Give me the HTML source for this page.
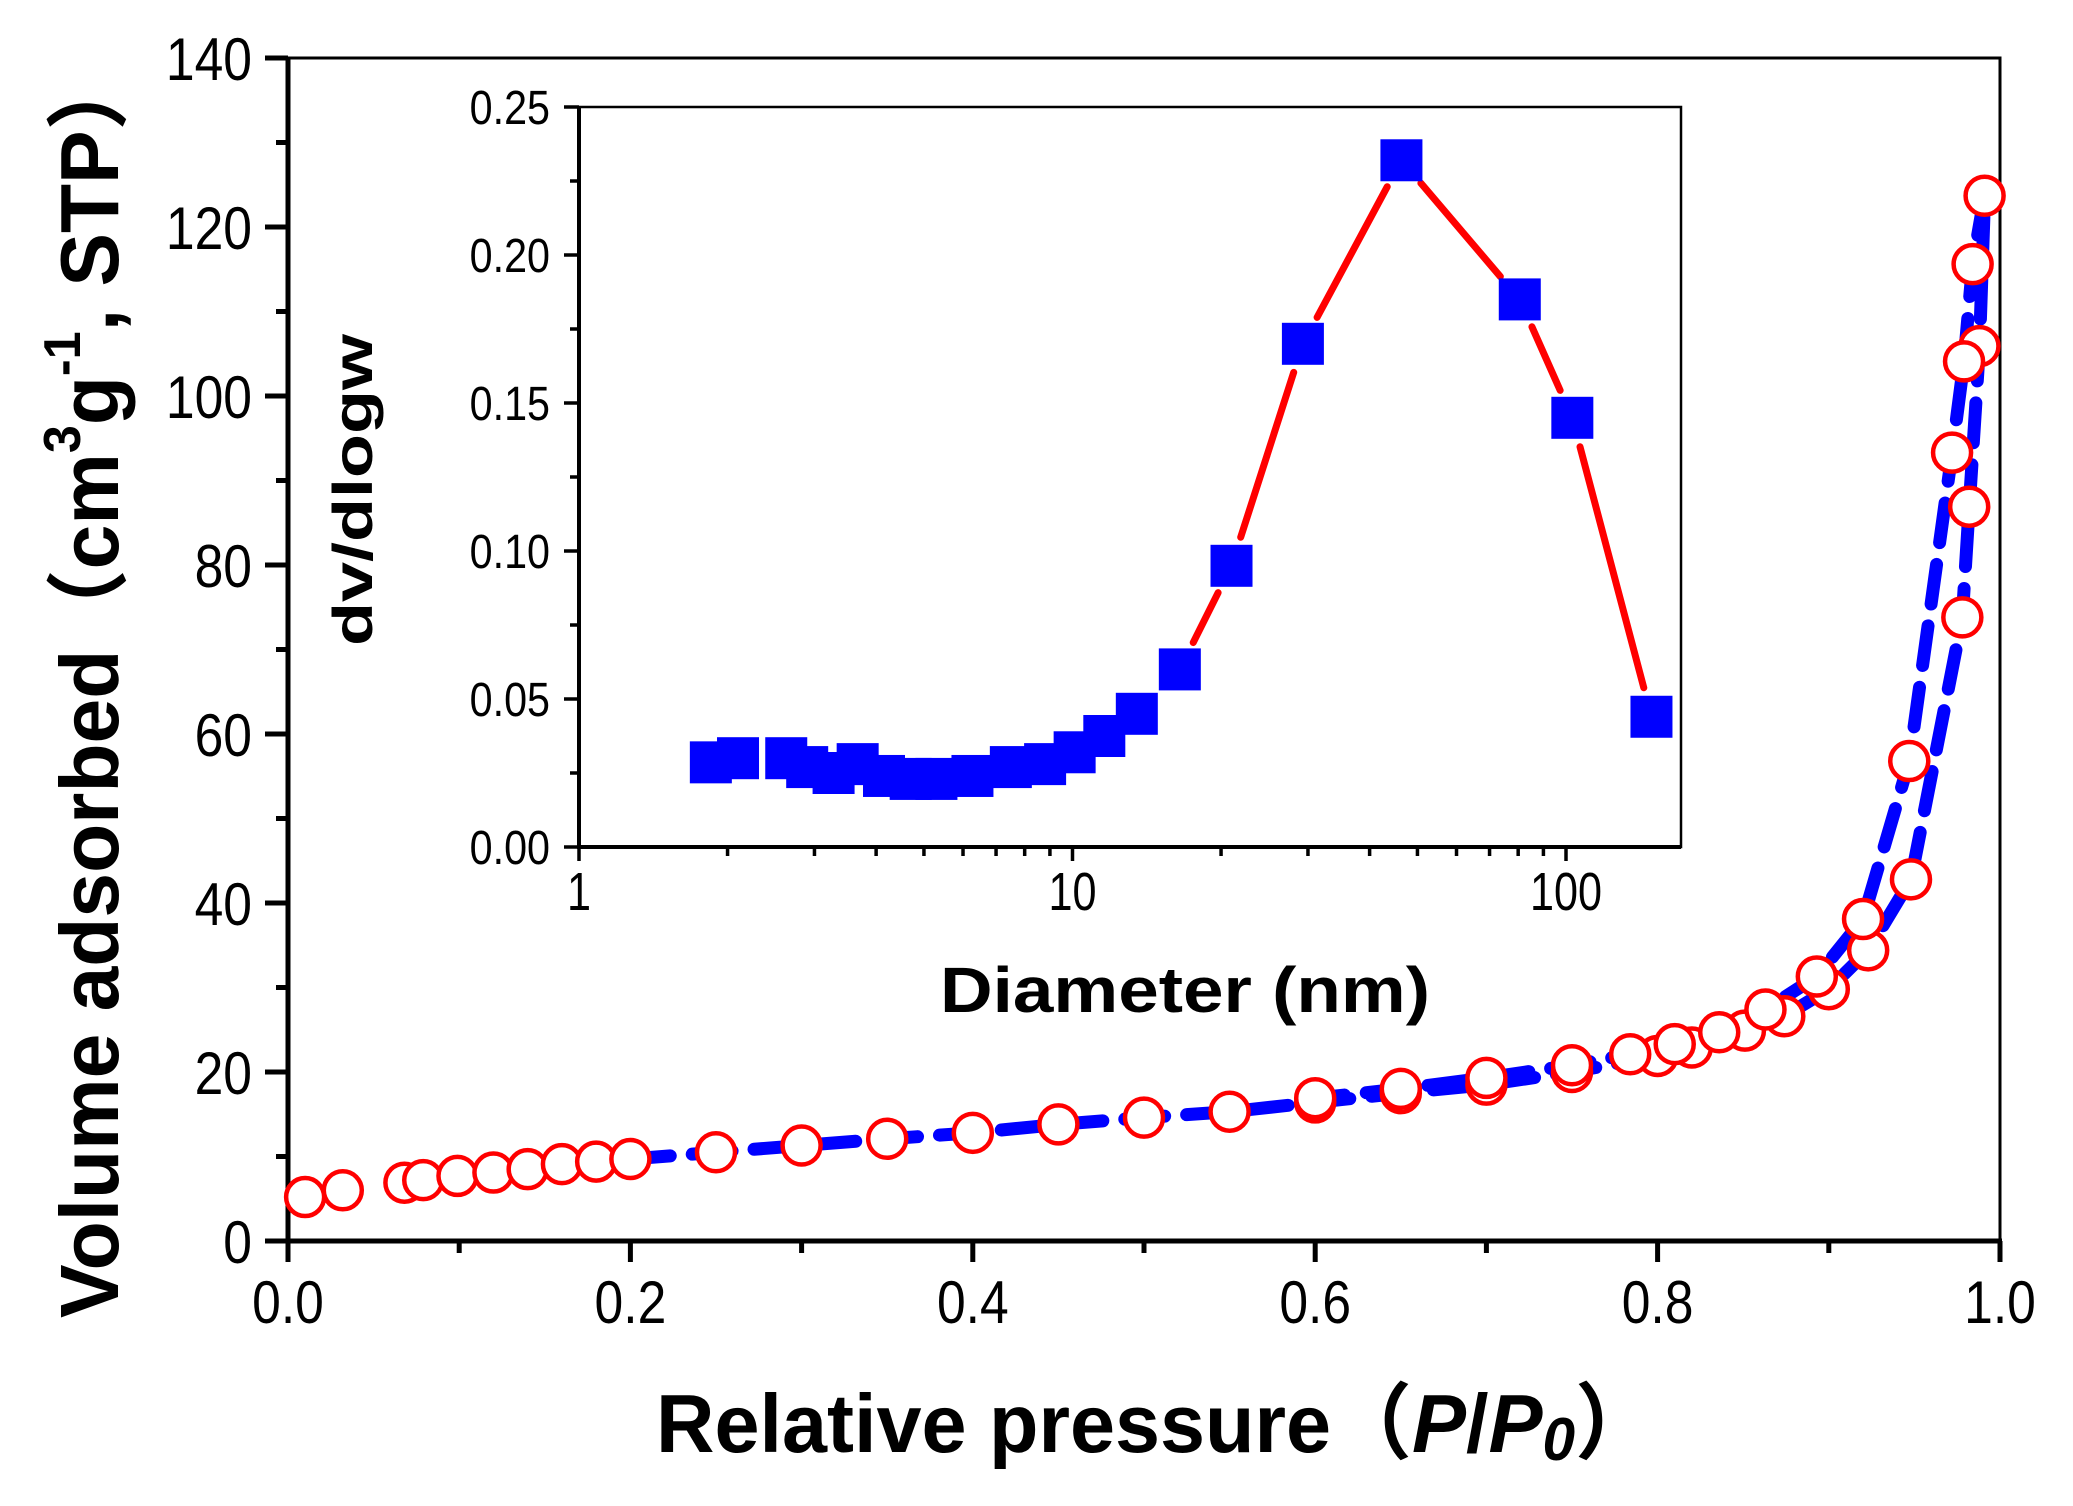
<!DOCTYPE html>
<html><head><meta charset="utf-8"><style>
html,body{margin:0;padding:0;background:#fff;}
svg{display:block;}
</style></head><body>
<svg id="chart" width="2073" height="1506" viewBox="0 0 2073 1506" xmlns="http://www.w3.org/2000/svg">
<rect width="2073" height="1506" fill="#fff"/>
<g id="main"></g>
<g id="inset"></g>
<text x="656" y="1452" font-family="'Liberation Sans','Noto Sans CJK SC',sans-serif" font-weight="bold" font-size="83" textLength="1000" lengthAdjust="spacingAndGlyphs">Relative pressure（<tspan font-style="italic">P</tspan>/<tspan font-style="italic">P</tspan><tspan font-style="italic" font-size="60" dy="8">0</tspan><tspan dy="-8">）</tspan></text>
<text transform="translate(118,1318) rotate(-90)" x="0" y="0" font-family="'Liberation Sans','Noto Sans CJK SC',sans-serif" font-weight="bold" font-size="83" textLength="1268" lengthAdjust="spacingAndGlyphs">Volume adsorbed（cm<tspan font-size="52" dy="-38">3</tspan><tspan dy="38">g</tspan><tspan font-size="52" dy="-38">-1</tspan><tspan dy="38">, STP）</tspan></text>
<text x="940" y="1012" font-family="'Liberation Sans',sans-serif" font-weight="bold" font-size="64" textLength="490" lengthAdjust="spacingAndGlyphs">Diameter (nm)</text>
<text transform="translate(372,646) rotate(-90)" font-family="'Liberation Sans',sans-serif" font-weight="bold" font-size="56" textLength="312" lengthAdjust="spacingAndGlyphs">dv/dlogw</text>
</svg>
<script>
// main isotherm data
const adsP = [0.010,0.032,0.068,0.079,0.099,0.12,0.14,0.16,0.18,0.20,0.25,0.30,0.35,0.40,0.45,0.50,0.55,0.60,0.65,0.70,0.75,0.80,0.82,0.851,0.874,0.90,0.923,0.948,0.978,0.982,0.988,0.991];
const adsV = [5.2,6.0,6.9,7.2,7.7,8.1,8.5,9.1,9.4,9.7,10.5,11.3,12.1,12.8,13.8,14.6,15.3,16.4,17.5,18.5,20.0,21.9,22.9,24.9,26.6,29.8,34.4,42.8,73.8,86.9,105.9,123.7];
const desP = [0.984,0.979,0.972,0.947,0.920,0.893,0.863,0.836,0.810,0.784,0.750,0.700,0.650,0.600];
const desV = [115.6,104.1,93.3,56.8,38.1,31.3,27.4,24.7,23.3,22.1,20.8,19.3,18.0,16.9];
const xTicks = ["0.0","0.2","0.4","0.6","0.8","1.0"];
const yTicks = ["0","20","40","60","80","100","120","140"];
// inset PSD data
const diam = [1.85,2.10,2.63,2.9,3.28,3.67,4.15,4.7,5.3,6.27,7.5,8.8,10.1,11.6,13.5,16.5,21.0,29.3,46.4,80.6,103,149];
const dvdlogw = [0.0286,0.030,0.030,0.027,0.025,0.028,0.024,0.023,0.023,0.024,0.027,0.028,0.032,0.0375,0.045,0.060,0.095,0.170,0.232,0.185,0.145,0.044];
const insetXTicks = ["1","10","100"];
const insetYTicks = ["0.00","0.05","0.10","0.15","0.20","0.25"];

const NS="http://www.w3.org/2000/svg";
function mk(parent,tag,attrs){const e=document.createElementNS(NS,tag);for(const k in attrs)e.setAttribute(k,attrs[k]);parent.appendChild(e);return e;}
const main=document.getElementById('main'), inset=document.getElementById('inset');
const L=288,R=2000,T=58,B=1241;
const sx=p=>L+(R-L)*p/1.0, sy=v=>B-(B-T)*v/140;
const FONT="'Liberation Sans',sans-serif";

let e;
e=mk(main,'rect',{x:L,y:T,width:R-L,height:B-T,fill:'none',stroke:'#000','stroke-width':3});


e=mk(main,'line',{x1:L,y1:T,x2:L,y2:B+2,stroke:'#000','stroke-width':5});


e=mk(main,'line',{x1:L-2,y1:B,x2:R+2,y2:B,stroke:'#000','stroke-width':5});


for(let i=0;i<=10;i++){const p=i/10;const major=i%2===0;
 e=mk(main,'line',{x1:sx(p),y1:B,x2:sx(p),y2:B+(major?21:12),stroke:'#000','stroke-width':5});
 
 
}
xTicks.forEach((t,i)=>{const p=parseFloat(t);
 e=mk(main,'text',{x:sx(p),y:1323,'text-anchor':'middle','font-family':FONT,'font-size':60,transform:`translate(${sx(p)},0) scale(0.86,1) translate(${-sx(p)},0)`});
 e.textContent=t;
 
 
});
for(let v=0;v<=140;v+=10){const major=v%20===0;
 e=mk(main,'line',{x1:L-(major?23:12),y1:sy(v),x2:L,y2:sy(v),stroke:'#000','stroke-width':5});
 
 
}
yTicks.forEach(t=>{const v=parseFloat(t);
 e=mk(main,'text',{x:252,y:sy(v)+22,'text-anchor':'end','font-family':FONT,'font-size':60,transform:`translate(252,0) scale(0.86,1) translate(-252,0)`});
 e.textContent=t;
 
 
});
function pathOf(P,V){return P.map((p,i)=>(i?'L':'M')+sx(p).toFixed(1)+','+sy(V[i]).toFixed(1)).join(' ');}
const adsStart=adsP.findIndex(p=>p>=0.2);
e=mk(main,'path',{d:pathOf(adsP.slice(adsStart),adsV.slice(adsStart)),fill:'none',stroke:'#0000ff','stroke-width':13,'stroke-dasharray':'40 22','stroke-linecap':'round','stroke-linejoin':'round'});


const dP=[adsP[adsP.length-1]].concat(desP), dV=[adsV[adsV.length-1]].concat(desV);
e=mk(main,'path',{d:pathOf(dP,dV),fill:'none',stroke:'#0000ff','stroke-width':13,'stroke-dasharray':'40 22','stroke-linecap':'round','stroke-linejoin':'round'});


function circ(p,v,name){
 e=mk(main,'circle',{cx:sx(p),cy:sy(v),r:19,fill:'#fff',stroke:'#ff0000','stroke-width':4.5});
 
 
}
adsP.forEach((p,i)=>circ(p,adsV[i],'adsorption-point'));
desP.forEach((p,i)=>circ(p,desV[i],'desorption-point'));

// inset
const iL=579,iR=1681,iT=107,iB=847, dec=493.5;
const ix=d=>iL+dec*Math.log10(d), iy=v=>iB-(iB-iT)*v/0.25;
e=mk(inset,'rect',{x:iL,y:iT,width:iR-iL,height:iB-iT,fill:'#fff',stroke:'#000','stroke-width':2.5});


e=mk(inset,'line',{x1:iL,y1:iT,x2:iL,y2:iB+2,stroke:'#000','stroke-width':4});


e=mk(inset,'line',{x1:iL-2,y1:iB,x2:iR,y2:iB,stroke:'#000','stroke-width':4});


for(let k=0;k<3;k++){for(let m=1;m<=9;m++){const d=m*Math.pow(10,k);const x=ix(d);if(x>iR)break;
 e=mk(inset,'line',{x1:x,y1:iB,x2:x,y2:iB+(m===1?14:9),stroke:'#000','stroke-width':3.5});
 
 
}}
insetXTicks.forEach(t=>{const x=ix(parseFloat(t));
 e=mk(inset,'text',{x:x,y:910,'text-anchor':'middle','font-family':FONT,'font-size':54,transform:`translate(${x},0) scale(0.8,1) translate(${-x},0)`});
 e.textContent=t;
 
 
});
for(let i=0;i<=10;i++){const v=i*0.025;const major=i%2===0;
 e=mk(inset,'line',{x1:iL-(major?15:9),y1:iy(v),x2:iL,y2:iy(v),stroke:'#000','stroke-width':3.5});
 
 
}
insetYTicks.forEach(t=>{const y=iy(parseFloat(t));
 e=mk(inset,'text',{x:550,y:y+17,'text-anchor':'end','font-family':FONT,'font-size':48,transform:`translate(550,0) scale(0.86,1) translate(-550,0)`});
 e.textContent=t;
 
 
});
const gap=30;
for(let i=0;i<diam.length-1;i++){
 const x1=ix(diam[i]),y1=iy(dvdlogw[i]),x2=ix(diam[i+1]),y2=iy(dvdlogw[i+1]);
 const len=Math.hypot(x2-x1,y2-y1); if(len<2*gap+4)continue;
 const ux=(x2-x1)/len,uy=(y2-y1)/len;
 e=mk(inset,'line',{x1:x1+ux*gap,y1:y1+uy*gap,x2:x2-ux*gap,y2:y2-uy*gap,stroke:'#ff0000','stroke-width':7,'stroke-linecap':'round'});
 
 
}
diam.forEach((d,i)=>{
 e=mk(inset,'rect',{x:ix(d)-21,y:iy(dvdlogw[i])-21,width:42,height:42,fill:'#0000ff'});
 
 
});
</script>
</body></html>
